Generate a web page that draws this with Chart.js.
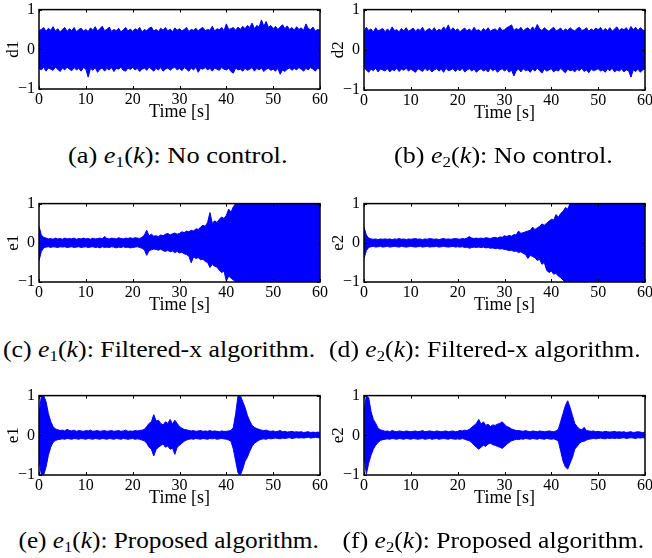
<!DOCTYPE html>
<html><head><meta charset="utf-8">
<script src="https://cdn.jsdelivr.net/npm/chart.js@4/dist/chart.umd.min.js"></script>
<style>
html,body{margin:0;padding:0;background:#fff;}
body{width:652px;height:558px;position:relative;overflow:hidden;font-family:"Liberation Serif","Times New Roman",serif;}
canvas{position:absolute;}
.cap{position:absolute;display:inline-block;font-size:23px;line-height:23px;white-space:nowrap;color:#000;transform-origin:50% 50%;}
.cap i{font-style:italic;}
.cap sub{font-size:15px;vertical-align:-4px;line-height:0;}
</style></head>
<body>
<canvas id="ca"></canvas><canvas id="cb"></canvas>
<canvas id="cc"></canvas><canvas id="cd"></canvas>
<canvas id="ce"></canvas><canvas id="cf"></canvas>
<div class="cap" data-cx="177.5" data-cy="155" data-w="219">(a) <i>e</i><sub>1</sub>(<i>k</i>): No control.</div>
<div class="cap" data-cx="503.5" data-cy="155" data-w="219">(b) <i>e</i><sub>2</sub>(<i>k</i>): No control.</div>
<div class="cap" data-cx="159" data-cy="349" data-w="312">(c) <i>e</i><sub>1</sub>(<i>k</i>): Filtered-x algorithm.</div>
<div class="cap" data-cx="485" data-cy="349" data-w="312">(d) <i>e</i><sub>2</sub>(<i>k</i>): Filtered-x algorithm.</div>
<div class="cap" data-cx="168" data-cy="540" data-w="300">(e) <i>e</i><sub>1</sub>(<i>k</i>): Proposed algorithm.</div>
<div class="cap" data-cx="493" data-cy="540" data-w="302">(f) <i>e</i><sub>2</sub>(<i>k</i>): Proposed algorithm.</div>
<script>
// Sample spacing of the envelope readings (seconds)
const STEP = 0.5;
const xTicks = [0, 10, 20, 30, 40, 50, 60];
const yTicks = [-1, 0, 1];
const xTitle = 'Time [s]';

// (a) d1: upper / lower envelope of the signal, read every 0.5 s
const aUp = [.47,.50,.55,.45,.53,.48,.57,.46,.52,.44, .50,.55,.45,.52,.47,.55,.44,.50,.53,.46,
 .50,.45,.54,.48,.57,.46,.52,.58,.47,.50, .56,.45,.50,.47,.53,.44,.49,.55,.46,.51,
 .45,.52,.48,.55,.44,.50,.47,.53,.56,.46, .50,.45,.53,.48,.55,.46,.51,.44,.54,.48,
 .52,.46,.50,.55,.45,.50,.48,.53,.46,.52, .55,.47,.50,.48,.58,.46,.52,.49,.55,.47,
 .64,.50,.52,.55,.48,.56,.50,.58,.52,.60, .55,.66,.52,.60,.56,.74,.58,.70,.55,.60,
 .52,.58,.50,.56,.62,.52,.59,.50,.55,.48, .57,.50,.54,.48,.64,.52,.50,.56,.46,.50, .48];
const aLo = [-.48,-.52,-.45,-.55,-.47,-.50,-.53,-.45,-.50,-.56, -.47,-.52,-.45,-.50,-.54,-.46,-.52,-.48,-.55,-.46,
 -.50,-.70,-.48,-.53,-.46,-.58,-.50,-.47,-.55,-.48, -.52,-.46,-.56,-.48,-.50,-.45,-.53,-.55,-.47,-.51,
 -.46,-.52,-.48,-.56,-.50,-.47,-.53,-.45,-.50,-.55, -.48,-.52,-.46,-.55,-.50,-.47,-.53,-.48,-.45,-.52,
 -.48,-.54,-.46,-.50,-.55,-.47,-.52,-.45,-.58,-.48, -.50,-.46,-.52,-.48,-.55,-.47,-.50,-.53,-.46,-.50,
 -.52,-.48,-.56,-.60,-.47,-.52,-.50,-.55,-.48,-.53, -.50,-.46,-.55,-.48,-.52,-.47,-.56,-.50,-.48,-.53,
 -.50,-.55,-.48,-.63,-.52,-.56,-.50,-.47,-.53,-.48, -.52,-.46,-.50,-.55,-.48,-.52,-.46,-.50,-.55,-.48, -.50];

// (b) d2
const bUp = [.45,.56,.48,.52,.44,.55,.47,.50,.53,.45, .52,.46,.57,.48,.50,.45,.53,.47,.55,.46,
 .50,.54,.46,.52,.48,.56,.45,.50,.53,.47, .55,.46,.51,.48,.57,.50,.62,.47,.55,.48,
 .52,.45,.50,.54,.47,.52,.46,.56,.48,.50, .45,.53,.48,.55,.46,.50,.52,.47,.56,.48,
 .50,.55,.58,.62,.48,.53,.50,.56,.47,.52, .55,.48,.57,.50,.63,.52,.48,.55,.50,.46,
 .52,.56,.47,.50,.54,.46,.52,.48,.55,.50, .47,.53,.56,.48,.50,.55,.46,.52,.48,.54,
 .50,.56,.47,.53,.48,.55,.46,.52,.57,.48, .53,.50,.55,.47,.58,.50,.56,.48,.55,.50, .47];
const bLo = [-.45,-.50,-.56,-.48,-.52,-.46,-.55,-.48,-.50,-.53, -.47,-.55,-.49,-.52,-.46,-.54,-.48,-.51,-.46,-.53,
 -.48,-.52,-.56,-.47,-.50,-.54,-.46,-.52,-.48,-.55, -.50,-.47,-.53,-.48,-.56,-.46,-.52,-.50,-.47,-.54,
 -.48,-.52,-.46,-.55,-.50,-.47,-.53,-.48,-.56,-.50, -.47,-.53,-.49,-.55,-.46,-.52,-.48,-.56,-.50,-.47,
 -.53,-.48,-.56,-.50,-.65,-.52,-.48,-.55,-.47,-.52, -.50,-.56,-.48,-.53,-.46,-.52,-.58,-.48,-.53,-.50,
 -.47,-.55,-.50,-.53,-.46,-.52,-.57,-.48,-.52,-.50, -.55,-.48,-.52,-.46,-.54,-.50,-.57,-.48,-.52,-.50,
 -.47,-.53,-.50,-.56,-.48,-.52,-.46,-.55,-.50,-.53, -.48,-.55,-.50,-.52,-.68,-.50,-.54,-.48,-.56,-.50, -.48];

// (c) e1, filtered-x
const cUp = [.42,.20,.14,.12,.10,.11,.09,.12,.10,.11, .09,.12,.10,.11,.10,.12,.09,.11,.10,.12,
 .10,.11,.09,.12,.10,.11,.12,.10,.16,.11, .10,.12,.11,.10,.13,.11,.10,.12,.11,.13,
 .11,.13,.12,.11,.14,.20,.32,.18,.22,.17, .18,.16,.20,.18,.22,.24,.20,.23,.25,.22,
 .24,.28,.26,.30,.28,.32,.30,.36,.34,.40, .45,.42,.52,.77,.50,.56,.52,.60,.66,.62,
 .70,.86,.78,.92,1,1,1,1,1,1, 1,1,1,1,1,1,1,1,1,1,
 1,1,1,1,1,1,1,1,1,1, 1,1,1,1,1,1,1,1,1,1, 1];
const cLo = [-.46,-.22,-.13,-.11,-.10,-.12,-.10,-.11,-.12,-.10, -.11,-.10,-.12,-.11,-.10,-.12,-.11,-.10,-.12,-.11,
 -.10,-.12,-.11,-.10,-.12,-.11,-.13,-.10,-.12,-.11, -.12,-.10,-.11,-.13,-.11,-.12,-.10,-.12,-.11,-.13,
 -.12,-.11,-.10,-.12,-.14,-.18,-.32,-.20,-.18,-.16, -.17,-.19,-.16,-.20,-.22,-.19,-.23,-.21,-.25,-.22,
 -.26,-.24,-.28,-.30,-.34,-.51,-.36,-.40,-.38,-.43, -.42,-.48,-.50,-.63,-.55,-.60,-.62,-.70,-.76,-.72,
 -.98,-.85,-.90,-.95,-1,-1,-1,-1,-1,-1, -1,-1,-1,-1,-1,-1,-1,-1,-1,-1,
 -1,-1,-1,-1,-1,-1,-1,-1,-1,-1, -1,-1,-1,-1,-1,-1,-1,-1,-1,-1, -1];

// (d) e2, filtered-x
const dUp = [.40,.20,.12,.10,.09,.10,.08,.10,.09,.10, .09,.10,.08,.10,.09,.11,.09,.10,.08,.10,
 .09,.10,.11,.09,.10,.08,.10,.09,.11,.10, .09,.10,.08,.10,.11,.09,.10,.09,.10,.11,
 .10,.09,.11,.10,.12,.16,.12,.11,.12,.11, .12,.11,.13,.12,.11,.13,.14,.12,.15,.14,
 .18,.16,.19,.17,.21,.20,.30,.24,.26,.28, .30,.32,.40,.34,.38,.42,.48,.45,.50,.55,
 .60,.58,.72,.65,.75,.80,.90,.86,1,1, 1,1,1,1,1,1,1,1,1,1,
 1,1,1,1,1,1,1,1,1,1, 1,1,1,1,1,1,1,1,1,1, 1];
const dLo = [-.40,-.20,-.12,-.10,-.09,-.11,-.10,-.09,-.11,-.10, -.09,-.11,-.10,-.09,-.10,-.11,-.09,-.10,-.11,-.10,
 -.09,-.10,-.11,-.10,-.09,-.11,-.10,-.09,-.11,-.10, -.10,-.09,-.11,-.10,-.09,-.10,-.11,-.10,-.09,-.11,
 -.10,-.11,-.10,-.12,-.11,-.14,-.12,-.11,-.12,-.11, -.12,-.11,-.13,-.12,-.14,-.13,-.15,-.14,-.16,-.15,
 -.17,-.18,-.20,-.19,-.22,-.21,-.25,-.23,-.27,-.30, -.40,-.32,-.35,-.38,-.45,-.42,-.55,-.50,-.70,-.76,
 -.72,-.80,-.78,-.85,-.89,-.95,-1,-1,-1,-1, -1,-1,-1,-1,-1,-1,-1,-1,-1,-1,
 -1,-1,-1,-1,-1,-1,-1,-1,-1,-1, -1,-1,-1,-1,-1,-1,-1,-1,-1,-1, -1];

// (e) e1, proposed
const eUp = [.50,1,1,.85,.55,.35,.22,.16,.14,.12, .13,.11,.15,.12,.11,.13,.10,.12,.11,.10,
 .12,.11,.13,.10,.11,.12,.10,.11,.12,.10, .11,.12,.10,.11,.12,.10,.11,.13,.10,.11,
 .10,.12,.11,.12,.13,.15,.22,.30,.34,.52, .36,.38,.30,.26,.34,.30,.40,.28,.38,.30,
 .22,.18,.15,.14,.12,.11,.12,.10,.11,.12, .10,.11,.10,.12,.10,.11,.10,.09,.11,.10,
 .10,.11,.12,.20,.55,1,1,.85,.70,.50, .36,.25,.20,.17,.15,.13,.12,.13,.11,.10,
 .11,.09,.10,.12,.09,.10,.08,.09,.10,.08, .09,.08,.09,.07,.08,.09,.07,.08,.07,.08, .07];
const eLo = [-.60,-1,-1,-.80,-.50,-.30,-.18,-.13,-.11,-.10, -.09,-.10,-.08,-.09,-.10,-.08,-.09,-.10,-.08,-.09,
 -.10,-.08,-.09,-.10,-.08,-.09,-.10,-.08,-.09,-.10, -.08,-.09,-.10,-.08,-.09,-.10,-.08,-.09,-.10,-.09,
 -.08,-.10,-.09,-.10,-.12,-.14,-.20,-.30,-.35,-.52, -.36,-.30,-.26,-.22,-.30,-.27,-.35,-.32,-.48,-.30,
 -.25,-.20,-.15,-.12,-.10,-.09,-.10,-.08,-.09,-.10, -.08,-.09,-.10,-.08,-.09,-.08,-.10,-.09,-.08,-.09,
 -.10,-.12,-.15,-.35,-.65,-.95,-1,-.85,-.65,-.55, -.40,-.28,-.20,-.16,-.12,-.10,-.09,-.10,-.08,-.09,
 -.08,-.07,-.08,-.09,-.07,-.08,-.07,-.06,-.08,-.07, -.06,-.07,-.06,-.07,-.06,-.05,-.07,-.06,-.05,-.06, -.06];

// (f) e2, proposed
const fUp = [.60,1,.95,.60,.40,.30,.18,.14,.12,.10, .11,.09,.12,.10,.09,.11,.10,.09,.11,.10,
 .09,.10,.11,.09,.10,.12,.09,.10,.11,.10, .09,.11,.10,.09,.10,.11,.09,.10,.11,.09,
 .10,.12,.11,.13,.12,.15,.20,.25,.30,.40, .28,.34,.25,.28,.22,.26,.25,.28,.30,.34,
 .28,.22,.20,.16,.14,.12,.12,.11,.10,.12, .10,.09,.11,.10,.09,.11,.10,.09,.10,.11,
 .10,.09,.11,.15,.35,.55,.75,.87,.70,.50, .30,.22,.16,.14,.20,.12,.11,.10,.11,.09,
 .10,.09,.08,.10,.09,.08,.09,.10,.08,.09, .08,.09,.07,.08,.09,.07,.08,.09,.08,.07, .08];
const fLo = [-.50,-.98,-.70,-.50,-.35,-.25,-.18,-.13,-.11,-.10, -.09,-.10,-.08,-.09,-.10,-.08,-.09,-.10,-.08,-.09,
 -.10,-.08,-.09,-.10,-.09,-.08,-.10,-.09,-.08,-.10, -.09,-.08,-.10,-.09,-.08,-.09,-.10,-.08,-.09,-.10,
 -.09,-.10,-.08,-.10,-.12,-.14,-.18,-.25,-.30,-.35, -.30,-.25,-.28,-.22,-.20,-.24,-.25,-.28,-.30,-.33,
 -.28,-.22,-.18,-.14,-.12,-.10,-.11,-.09,-.10,-.08, -.09,-.10,-.08,-.09,-.10,-.08,-.09,-.10,-.08,-.09,
 -.10,-.09,-.11,-.15,-.40,-.65,-.80,-.85,-.70,-.56, -.35,-.28,-.20,-.16,-.15,-.12,-.10,-.09,-.08,-.09,
 -.08,-.07,-.08,-.09,-.07,-.08,-.07,-.08,-.07,-.08, -.07,-.06,-.08,-.07,-.06,-.07,-.08,-.06,-.07,-.06, -.07];

const BLUE = '#0000ff';
const FONT = '"Liberation Serif","Times New Roman",serif';
const PAD = {top: 10, right: 12, left: 0, bottom: 0};
const YW = 39, XH = 32;

const framePlugin = {
  id: 'frame',
  afterDatasetsDraw(chart) {
    const {ctx, chartArea: a, scales: {x, y}} = chart;
    ctx.save();
    ctx.strokeStyle = '#000';
    ctx.lineWidth = 1;
    ctx.beginPath();
    x.ticks.forEach(t => {
      const p = Math.round(x.getPixelForValue(t.value)) + 0.5;
      ctx.moveTo(p, a.bottom); ctx.lineTo(p, a.bottom - 3);
      ctx.moveTo(p, a.top); ctx.lineTo(p, a.top + 3);
    });
    y.ticks.forEach(t => {
      const p = Math.round(y.getPixelForValue(t.value)) + 0.5;
      ctx.moveTo(a.left, p); ctx.lineTo(a.left + 3, p);
      ctx.moveTo(a.right, p); ctx.lineTo(a.right - 3, p);
    });
    ctx.stroke();
    ctx.lineWidth = 1.5;
    ctx.strokeRect(a.left, a.top, a.right - a.left, a.bottom - a.top);
    ctx.restore();
  }
};

function pts(arr) { return arr.map((v, i) => ({x: i * STEP, y: v})); }

function panel(id, plot, up, lo, yLabel) {
  const cv = document.getElementById(id);
  const left = plot.l - YW, top = plot.t - PAD.top;
  const w = plot.r + PAD.right - left, h = plot.b + XH - top;
  cv.width = w; cv.height = h;
  cv.style.left = left + 'px'; cv.style.top = top + 'px';
  cv.style.width = w + 'px'; cv.style.height = h + 'px';
  new Chart(cv, {
    type: 'line',
    data: {datasets: [
      {data: pts(up), borderColor: BLUE, backgroundColor: BLUE, borderWidth: 1, pointRadius: 0, tension: 0, fill: '+1'},
      {data: pts(lo), borderColor: BLUE, backgroundColor: BLUE, borderWidth: 1, pointRadius: 0, tension: 0, fill: false}
    ]},
    options: {
      responsive: false, animation: false, devicePixelRatio: 1,
      layout: {padding: PAD},
      plugins: {legend: {display: false}, tooltip: {enabled: false}},
      scales: {
        x: {type: 'linear', min: 0, max: 60,
            afterBuildTicks: s => { s.ticks = xTicks.map(v => ({value: v})); },
            afterFit: s => { s.height = XH; },
            grid: {display: false, drawTicks: false}, border: {display: false},
            ticks: {color: '#000', padding: 1, maxRotation: 0, font: {family: FONT, size: 16}},
            title: {display: true, text: xTitle, color: '#000', padding: 0, font: {family: FONT, size: 18, lineHeight: 1}}},
        y: {min: -1, max: 1,
            afterBuildTicks: s => { s.ticks = yTicks.map(v => ({value: v})); },
            afterFit: s => { s.width = YW; },
            grid: {display: false, drawTicks: false}, border: {display: false},
            ticks: {color: '#000', padding: 4, font: {family: FONT, size: 16},
                    callback: v => v < 0 ? '\u2212' + Math.abs(v) : String(v)},
            title: {display: true, text: yLabel, color: '#000', padding: {top: 5, bottom: 0}, font: {family: FONT, size: 17, lineHeight: 1}}}
      }
    },
    plugins: [framePlugin]
  });
}

panel('ca', {l: 39, r: 320, t: 6, b: 89}, aUp, aLo, 'd1');
panel('cb', {l: 364, r: 645, t: 6, b: 90}, bUp, bLo, 'd2');
panel('cc', {l: 39, r: 320, t: 200, b: 282}, cUp, cLo, 'e1');
panel('cd', {l: 364, r: 645, t: 200, b: 282}, dUp, dLo, 'e2');
panel('ce', {l: 39, r: 320, t: 392, b: 475}, eUp, eLo, 'e1');
panel('cf', {l: 364, r: 645, t: 392, b: 475}, fUp, fLo, 'e2');

// Place each caption at its centre and stretch it to the width it has in the reference
document.querySelectorAll('.cap').forEach(el => {
  const nat = el.offsetWidth, hgt = el.offsetHeight;
  const cx = +el.dataset.cx, cy = +el.dataset.cy, tw = +el.dataset.w;
  el.style.left = (cx - nat / 2) + 'px';
  el.style.top = (cy - hgt / 2) + 'px';
  el.style.transform = 'scaleX(' + (tw / nat).toFixed(3) + ')';
});
</script>
</body></html>
